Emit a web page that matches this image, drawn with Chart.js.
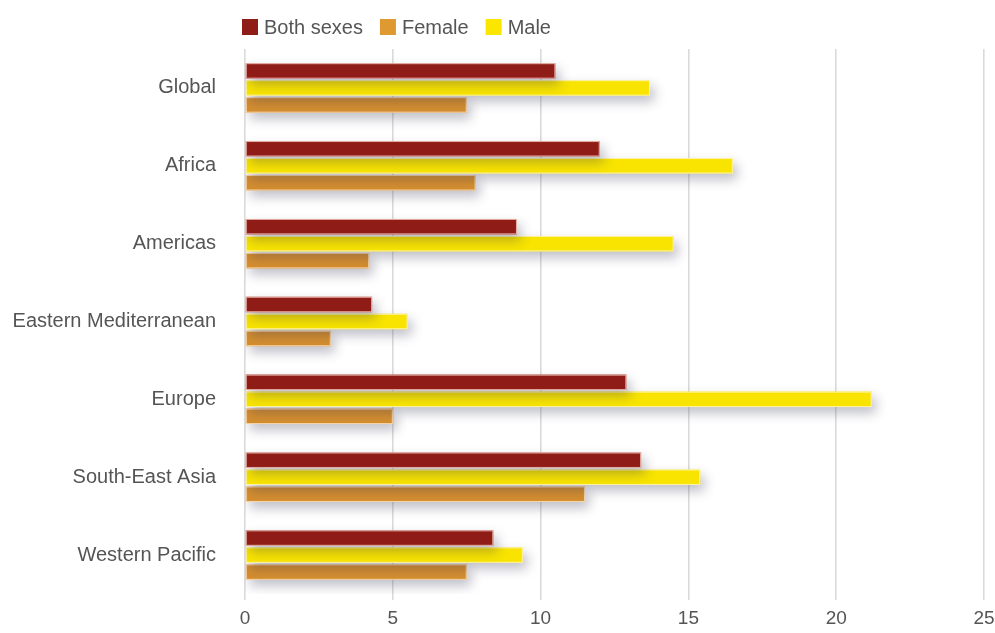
<!DOCTYPE html>
<html>
<head>
<meta charset="utf-8">
<script src="https://cdn.jsdelivr.net/npm/chart.js@4"></script>
<style>
  html, body { margin: 0; padding: 0; background: #ffffff; }
  #wrap { width: 995px; height: 633px; position: relative; }
</style>
</head>
<body>
<div id="wrap"><canvas id="c" width="995" height="633"></canvas></div>
<script>
// ---- data ----
const categories = ['Global', 'Africa', 'Americas', 'Eastern Mediterranean', 'Europe', 'South-East Asia', 'Western Pacific'];
const bothSexes = [10.5, 12.0, 9.2, 4.3, 12.9, 13.4, 8.4];
const male = [13.7, 16.5, 14.5, 5.5, 21.2, 15.4, 9.4];
const female = [7.5, 7.8, 4.2, 2.9, 5.0, 11.5, 7.5];
const xTicks = [0, 5, 10, 15, 20, 25];
const legendOrder = ['Both sexes', 'Female', 'Male'];

const FONT = '"Liberation Sans", Arial, Helvetica, sans-serif';
const TEXT = '#555555';

const shadowPlugin = {
  id: 'barShadow',
  beforeDatasetDraw(chart) {
    const ctx = chart.ctx;
    ctx.save();
    ctx.shadowColor = 'rgba(50,50,80,0.32)';
    ctx.shadowBlur = 12;
    ctx.shadowOffsetX = 4;
    ctx.shadowOffsetY = 6;
  },
  afterDatasetDraw(chart, args) {
    const ctx = chart.ctx;
    ctx.restore();
    // thin light edge around each bar
    const ds = chart.data.datasets[args.index];
    ctx.save();
    ctx.strokeStyle = ds.edgeColor;
    ctx.lineWidth = 1;
    args.meta.data.forEach(el => {
      const p = el.getProps(['x', 'y', 'base', 'height'], true);
      const top = p.y - p.height / 2;
      ctx.strokeRect(p.base + 0.5, top + 0.5, p.x - p.base - 1, p.height - 1);
    });
    ctx.restore();
  }
};

const legendPlugin = {
  id: 'customLegend',
  afterDraw(chart) {
    const ctx = chart.ctx;
    ctx.save();
    ctx.font = '20px ' + FONT;
    ctx.textBaseline = 'middle';
    let x = 242;
    const y = 27;
    legendOrder.forEach(name => {
      const ds = chart.data.datasets.find(d => d.label === name);
      ctx.fillStyle = ds.legendColor;
      ctx.fillRect(x, y - 8, 16, 16);
      ctx.fillStyle = TEXT;
      ctx.fillText(name, x + 22, y + 1);
      x += 22 + ctx.measureText(name).width + 17;
    });
    ctx.restore();
  }
};

const ctx = document.getElementById('c').getContext('2d');
new Chart(ctx, {
  type: 'bar',
  data: {
    labels: categories,
    datasets: [
      { label: 'Both sexes', data: bothSexes, backgroundColor: '#8f1c17', legendColor: '#8f1c17',
        edgeColor: 'rgba(255,215,200,0.8)', borderWidth: 0 },
      { label: 'Male', data: male, backgroundColor: '#f8e400', legendColor: '#fbe600',
        edgeColor: 'rgba(255,245,190,0.9)', borderWidth: 0 },
      { label: 'Female', data: female, backgroundColor: '#d48e2f', legendColor: '#de9a30',
        edgeColor: 'rgba(255,225,190,0.9)', borderWidth: 0 }
    ]
  },
  plugins: [shadowPlugin, legendPlugin],
  options: {
    indexAxis: 'y',
    responsive: false,
    animation: false,
    layout: { padding: { top: 49, right: 11, bottom: 0, left: 0 } },
    datasets: { bar: { categoryPercentage: 0.655, barPercentage: 0.91 } },
    plugins: {
      legend: { display: false },
      tooltip: { enabled: false }
    },
    scales: {
      x: {
        min: 0, max: 25,
        afterBuildTicks(axis) { axis.ticks = xTicks.map(v => ({ value: v })); },
        afterFit(axis) { axis.height = 39; axis.paddingRight = 0; axis.paddingLeft = 0; },
        grid: { color: '#dadada', lineWidth: 1.6, tickLength: 6, drawTicks: true },
        border: { display: false },
        ticks: { color: TEXT, font: { family: FONT, size: 19 }, padding: 7 }
      },
      y: {
        afterFit(axis) { axis.width = 245; },
        grid: { display: false },
        border: { display: false },
        ticks: { color: TEXT, font: { family: FONT, size: 20 }, padding: 21 }
      }
    }
  }
});
</script>
</body>
</html>
